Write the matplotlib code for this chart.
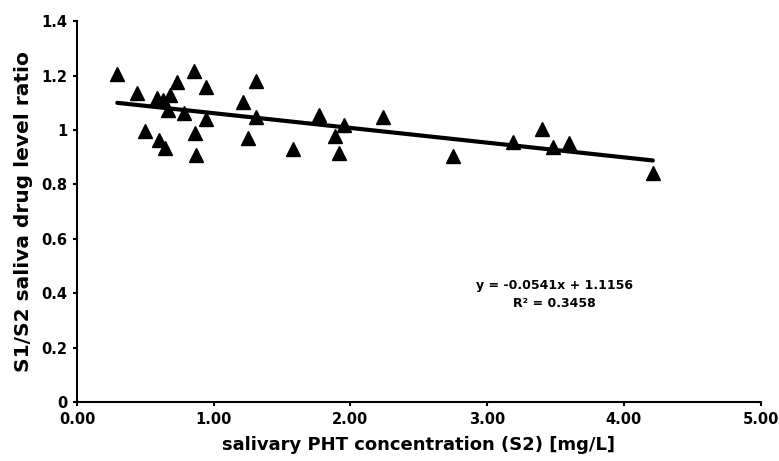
#! /usr/bin/env python3

"""Saliva S1/S2 ratio against salivary PHT concentration, with linear fit"""

import matplotlib
matplotlib.use('Agg')
import matplotlib.pyplot as plt

# values
conc_s2 = [0.295, 0.439, 0.497, 0.583, 0.600, 0.631, 0.644, 0.680, 0.668, 0.729,
           0.785, 0.854, 0.863, 0.871, 0.941, 0.941, 1.212, 1.253, 1.309, 1.309,
           1.582, 1.773, 1.953, 1.885, 1.919, 2.241, 2.753, 3.189, 3.404, 3.484,
           3.599, 4.211]
ratio = [1.206, 1.135, 0.996, 1.117, 0.963, 1.110, 0.935, 1.129, 1.074, 1.178,
         1.061, 1.218, 0.988, 0.908, 1.159, 1.039, 1.102, 0.969, 1.181, 1.046,
         0.929, 1.055, 1.018, 0.978, 0.917, 1.047, 0.904, 0.954, 1.003, 0.936,
         0.951, 0.841]

slope = -0.0541
intercept = 1.1156
r2 = 0.3458

xticks = [0, 1, 2, 3, 4, 5]
xticklabels = ['0.00', '1.00', '2.00', '3.00', '4.00', '5.00']
yticks = [0, 0.2, 0.4, 0.6, 0.8, 1.0, 1.2, 1.4]
yticklabels = ['0', '0.2', '0.4', '0.6', '0.8', '1', '1.2', '1.4']

plt.rcParams['font.family'] = ['DejaVu Sans']
plt.rcParams['font.weight'] = 'bold'

fig = plt.figure(figsize=(7.79, 4.61), dpi=100)
ax = fig.add_axes([0.0988, 0.128, 0.8777, 0.8262])

ax.plot(conc_s2, ratio, linestyle='none', marker='^', color='black',
        markersize=10.5)

xfit = [min(conc_s2), max(conc_s2)]
yfit = [slope * x + intercept for x in xfit]
ax.plot(xfit, yfit, color='black', linewidth=3, solid_capstyle='round')

ax.text(3.49, 0.427, 'y = %.4fx + %.4f' % (slope, intercept), ha='center',
        va='center', fontsize=9, fontweight='bold')
ax.text(3.49, 0.363, 'R\u00b2 = %.4f' % r2, ha='center', va='center',
        fontsize=9, fontweight='bold')

ax.set_xlim(0, 5)
ax.set_ylim(0, 1.4)
ax.set_xticks(xticks)
ax.set_xticklabels(xticklabels)
ax.set_yticks(yticks)
ax.set_yticklabels(yticklabels)
ax.tick_params(direction='out', length=3, width=1.5, labelsize=10.5, pad=4)

for side in ('top', 'right'):
    ax.spines[side].set_visible(False)
for side in ('left', 'bottom'):
    ax.spines[side].set_linewidth(1.5)

ax.set_xlabel('salivary PHT concentration (S2) [mg/L]', fontsize=13,
              fontweight='bold', labelpad=7)
ax.set_ylabel('S1/S2 saliva drug level ratio', fontsize=14.5,
              fontweight='bold', labelpad=6)

fig.savefig('out.png', dpi=100)
plt.close(fig)
